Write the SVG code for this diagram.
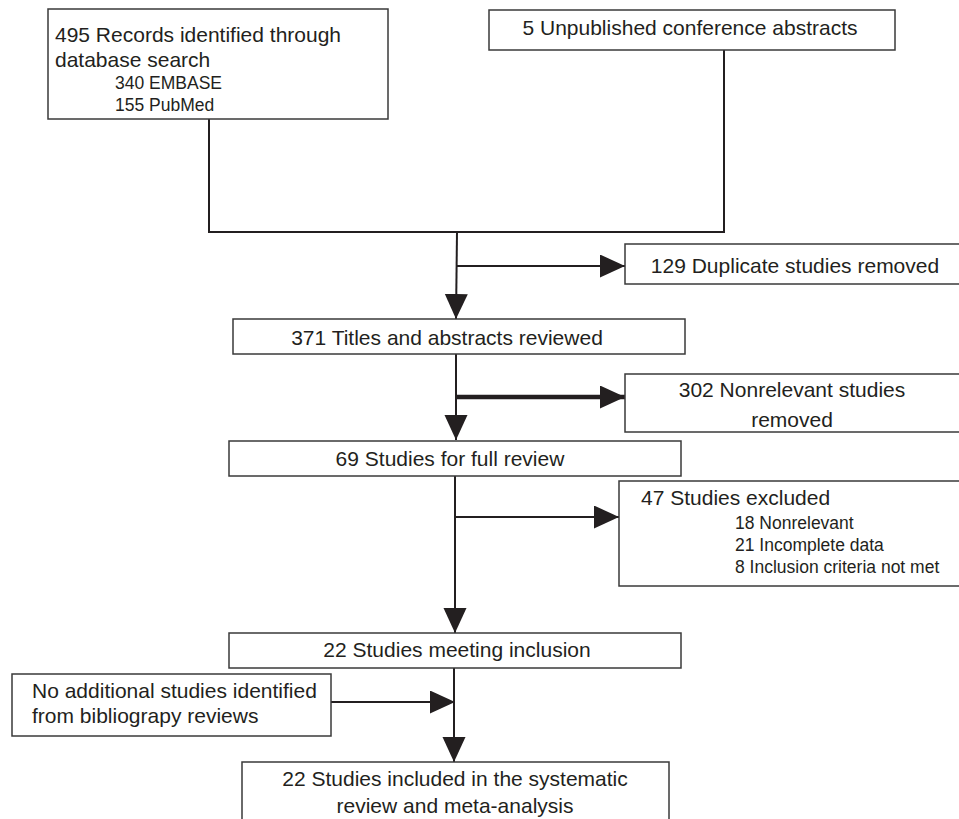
<svg xmlns="http://www.w3.org/2000/svg" width="959" height="819" viewBox="0 0 959 819">
<defs>
<marker id="ah" markerUnits="userSpaceOnUse" markerWidth="26" markerHeight="24" refX="25" refY="11.5" orient="auto">
<path d="M0,0 L25,11.5 L0,23 Z" fill="#231f20"/>
</marker>
<style>
.box{fill:#fff;stroke:#3a3a3a;stroke-width:1.5}
.ln{fill:none;stroke:#231f20;stroke-width:2}
.thick{stroke-width:4.5}
text{font-family:"Liberation Sans",Arial,sans-serif;fill:#231f20}
.t{font-size:21px}
.s{font-size:17.5px}
.m{text-anchor:middle}
</style>
</defs>
<rect width="959" height="819" fill="#fff"/>
<g id="connectors">
<polyline class="ln" points="209,119 209,232 724,232 724,50"/>
<line class="ln" x1="457" y1="232" x2="456" y2="319" marker-end="url(#ah)"/>
<line class="ln" x1="457" y1="266" x2="625" y2="266" marker-end="url(#ah)"/>
<line class="ln" x1="456" y1="354" x2="456" y2="440" marker-end="url(#ah)"/>
<line class="ln thick" x1="456" y1="397" x2="625" y2="397" marker-end="url(#ah)"/>
<line class="ln" x1="455" y1="476" x2="455" y2="633" marker-end="url(#ah)"/>
<line class="ln" x1="455" y1="517" x2="619" y2="517" marker-end="url(#ah)"/>
<line class="ln" x1="454" y1="668" x2="454" y2="762" marker-end="url(#ah)"/>
<line class="ln" x1="331" y1="702" x2="455" y2="702" marker-end="url(#ah)"/>
</g>
<g id="n1">
<rect class="box" x="48" y="9" width="340" height="110"/>
<text class="t" x="55" y="42">495 Records identified through</text>
<text class="t" x="55" y="67">database search</text>
<text class="s" x="115" y="89">340 EMBASE</text>
<text class="s" x="115" y="111">155 PubMed</text>
</g>
<g id="n2">
<rect class="box" x="489" y="10" width="406" height="40"/>
<text class="t m" x="690" y="35">5 Unpublished conference abstracts</text>
</g>
<g id="n3">
<rect class="box" x="625" y="244" width="340" height="40"/>
<text class="t m" x="795" y="273">129 Duplicate studies removed</text>
</g>
<g id="n4">
<rect class="box" x="233" y="319" width="452" height="35"/>
<text class="t m" x="447" y="345">371 Titles and abstracts reviewed</text>
</g>
<g id="n5">
<rect class="box" x="625" y="374" width="340" height="58"/>
<text class="t m" x="792" y="397">302 Nonrelevant studies</text>
<text class="t m" x="792" y="427">removed</text>
</g>
<g id="n6">
<rect class="box" x="229" y="441" width="452" height="35"/>
<text class="t m" x="450" y="466">69 Studies for full review</text>
</g>
<g id="n7">
<rect class="box" x="619" y="481" width="346" height="105"/>
<text class="t" x="641" y="505">47 Studies excluded</text>
<text class="s" x="735" y="529">18 Nonrelevant</text>
<text class="s" x="735" y="551">21 Incomplete data</text>
<text class="s" x="735" y="573">8 Inclusion criteria not met</text>
</g>
<g id="n8">
<rect class="box" x="229" y="633" width="452" height="35"/>
<text class="t m" x="457" y="657">22 Studies meeting inclusion</text>
</g>
<g id="n9">
<rect class="box" x="12" y="674" width="319" height="62"/>
<text class="t" x="32" y="698">No additional studies identified</text>
<text class="t" x="32" y="723">from bibliograpy reviews</text>
</g>
<g id="n10">
<rect class="box" x="242" y="762" width="427" height="70"/>
<text class="t m" x="455" y="786">22 Studies included in the systematic</text>
<text class="t m" x="455" y="813">review and meta-analysis</text>
</g>
</svg>
